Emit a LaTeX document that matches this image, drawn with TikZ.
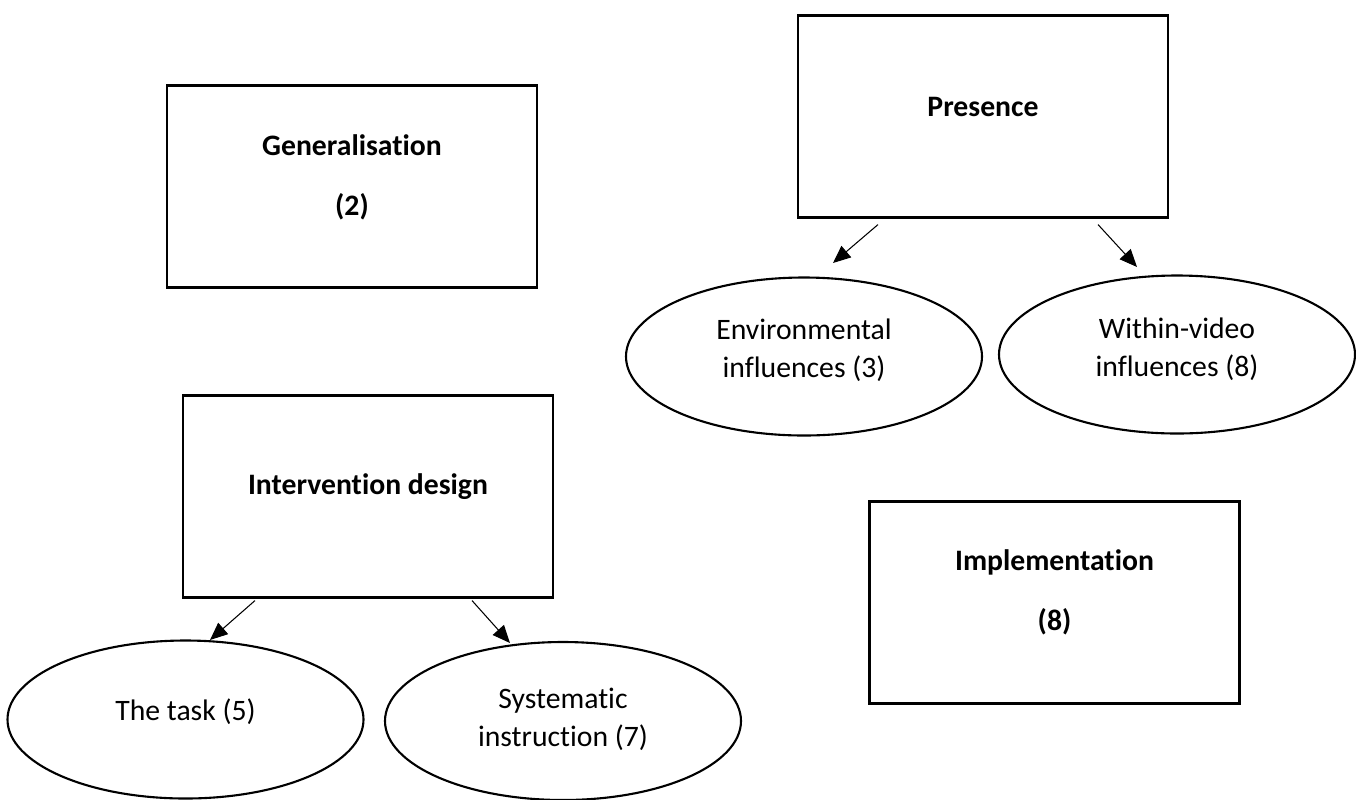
\documentclass[tikz,border=0pt]{standalone}
\usepackage{fontspec}
\setmainfont{Carlito}[Ligatures=NoCommon]
\usetikzlibrary{arrows.meta,shapes.geometric}
\begin{document}
\begin{tikzpicture}[x=0.02cm,y=-0.02cm,
  box/.style={draw,line width=1.2pt,rectangle,inner sep=0pt,minimum width=370*0.02cm,minimum height=202*0.02cm},
  oval/.style={draw,line width=1.2pt,ellipse,inner sep=0pt,minimum width=356*0.02cm,minimum height=158*0.02cm},
  boxtext/.style={align=center,inner sep=0pt,font=\bfseries\fontsize{16.9}{34}\selectfont},
  ovaltext/.style={align=center,inner sep=0pt,font=\fontsize{16.9}{21.6}\selectfont},
  arr/.style={line width=0.6pt,-{Triangle[length=10pt,width=8.5pt]}}]
\useasboundingbox (0,0) rectangle (1356,799);
% category boxes
\node[box] (gen) at (352,186.5) {};
\node[boxtext] (gent) at (352,177) {Generalisation\\(2)};
\node[box] (pres) at (983,116.5) {};
\node[boxtext] (prest) at (983,107) {Presence};
\node[box] (int) at (368,496.5) {};
\node[boxtext] (intt) at (368,487) {Intervention design};
\node[box] (imp) at (1054.5,602.5) {};
\node[boxtext] (impt) at (1054.5,592.5) {Implementation\\(8)};
% sub-themes
\node[oval] (env) at (804,356.5) {};
\node[ovaltext] (envt) at (804,350) {Environmental\\influences (3)};
\node[oval] (wv) at (1177,354.5) {};
\node[ovaltext] (wvt) at (1177,349.5) {Within-video\\influences (8)};
\node[oval] (task) at (185.5,719.5) {};
\node[ovaltext] (taskt) at (185.5,712) {The task (5)};
\node[oval] (sys) at (563,721) {};
\node[ovaltext] (syst) at (563,719) {Systematic\\instruction (7)};
% connectors
\coordinate (p1) at (833,263);
\coordinate (p2) at (1137,267);
\coordinate (i1) at (210,640);
\coordinate (i2) at (510,643);
\draw[arr] ([xshift=-105*0.02cm,yshift=-6*0.02cm]pres.south) -- (p1);
\draw[arr] ([xshift=115*0.02cm,yshift=-6*0.02cm]pres.south) -- (p2);
\draw[arr] ([xshift=-113*0.02cm,yshift=-2*0.02cm]int.south) -- (i1);
\draw[arr] ([xshift=104*0.02cm,yshift=-2*0.02cm]int.south) -- (i2);
\end{tikzpicture}
\end{document}
